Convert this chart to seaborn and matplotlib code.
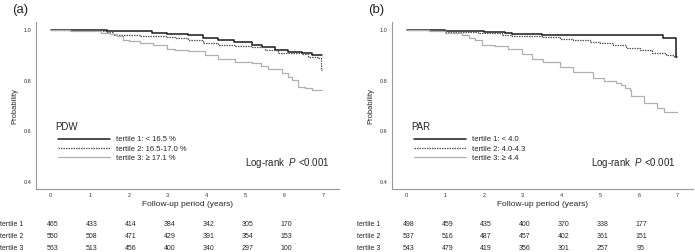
import numpy as np
import pandas as pd
import seaborn as sns
import matplotlib.pyplot as plt
from matplotlib.lines import Line2D

# ---- data ----
years = [0, 1, 2, 3, 4, 5, 6, 7]

# panel (a) PDW
pdw_t1_time = [0, 1.44, 1.8, 2.29, 2.6, 2.98, 3.2, 3.52, 3.9, 4.29, 4.7, 5.17, 5.42, 5.76, 6.1, 6.45, 6.71, 6.97]
pdw_t1_surv = [1.0, 0.998, 0.997, 0.995, 0.99, 0.986, 0.983, 0.979, 0.97, 0.96, 0.952, 0.943, 0.933, 0.92, 0.915, 0.911, 0.903, 0.903]
pdw_t2_time = [0, 0.82, 1.2, 1.44, 1.6, 2.29, 2.98, 3.2, 3.52, 3.9, 4.29, 4.73, 5.17, 5.5, 5.83, 6.45, 6.6, 6.86, 6.95, 6.97]
pdw_t2_surv = [1.0, 0.999, 0.995, 0.992, 0.982, 0.976, 0.973, 0.967, 0.96, 0.95, 0.94, 0.936, 0.933, 0.92, 0.911, 0.905, 0.894, 0.888, 0.842, 0.842]
pdw_t3_time = [0, 0.5, 1.0, 1.3, 1.52, 1.7, 1.85, 2.0, 2.29, 2.62, 2.98, 3.2, 3.52, 3.96, 4.29, 4.73, 5.17, 5.4, 5.58,
               5.94, 6.1, 6.2, 6.35, 6.53, 6.71, 6.97]
pdw_t3_surv = [1.0, 0.998, 0.995, 0.99, 0.986, 0.975, 0.96, 0.955, 0.95, 0.94, 0.927, 0.922, 0.916, 0.90, 0.885, 0.875,
               0.868, 0.86, 0.848, 0.829, 0.815, 0.803, 0.776, 0.773, 0.763, 0.763]
pdw_labels = ['tertile 1: < 16.5 %', 'tertile 2: 16.5-17.0 %', 'tertile 3: \u2265 17.1 %']
pdw_risk_t1 = [465, 433, 414, 384, 342, 305, 170]
pdw_risk_t2 = [550, 508, 471, 429, 391, 354, 153]
pdw_risk_t3 = [563, 513, 456, 400, 340, 297, 100]

# panel (b) PAR
par_t1_time = [0, 1.0, 2.0, 2.55, 2.72, 3.5, 6.58, 6.62, 6.95, 6.99]
par_t1_surv = [1.0, 0.997, 0.993, 0.99, 0.985, 0.982, 0.98, 0.97, 0.895, 0.895]
par_t2_time = [0, 1.0, 1.85, 2.46, 2.72, 3.52, 3.96, 4.3, 4.73, 5.0, 5.32, 5.68, 6.02, 6.35, 6.71, 6.92, 6.99]
par_t2_surv = [1.0, 0.993, 0.988, 0.982, 0.976, 0.973, 0.966, 0.96, 0.953, 0.948, 0.943, 0.929, 0.92, 0.911, 0.90,
               0.894, 0.894]
par_t3_time = [0, 0.57, 1.0, 1.43, 1.6, 1.77, 1.95, 2.29, 2.62, 2.97, 3.23, 3.52, 3.96, 4.29, 4.81, 5.1, 5.42, 5.54,
               5.65, 5.76, 5.8, 6.14, 6.48, 6.66, 6.99]
par_t3_surv = [1.0, 0.995, 0.99, 0.979, 0.97, 0.96, 0.943, 0.937, 0.927, 0.907, 0.887, 0.875, 0.855, 0.835, 0.809,
               0.80, 0.79, 0.784, 0.77, 0.763, 0.739, 0.713, 0.693, 0.677, 0.677]
par_labels = ['tertile 1: < 4.0', 'tertile 2: 4.0-4.3', 'tertile 3: \u2265 4.4']
par_risk_t1 = [498, 459, 435, 400, 370, 338, 177]
par_risk_t2 = [537, 516, 487, 457, 402, 361, 151]
par_risk_t3 = [543, 479, 419, 356, 301, 257, 95]

row_names = ['tertile 1', 'tertile 2', 'tertile 3']

sns.set_style('white')
plt.rcParams['font.family'] = ['Liberation Sans', 'DejaVu Sans']
plt.rcParams['mathtext.fontset'] = 'custom'
plt.rcParams['mathtext.it'] = 'Liberation Sans:italic'
plt.rcParams['mathtext.rm'] = 'Liberation Sans'

fig = plt.figure(figsize=(6.95, 2.52), dpi=100)
ax_a = fig.add_axes([36 / 695, 63 / 252, 303 / 695, 167 / 252])
ax_b = fig.add_axes([392 / 695, 63 / 252, 301 / 695, 167 / 252])

styles = [dict(color='#1a1a1a', linestyle='-', linewidth=1.1),
          dict(color='#555555', linestyle=(0, (1.2, 0.8)), linewidth=0.9),
          dict(color='#b0b0b0', linestyle='-', linewidth=0.9)]

# ax, tag, group name, curves, legend labels, risk rows, row-label x px, log-rank x
panels = [
    (ax_a, '(a)', 'PDW', [(pdw_t1_time, pdw_t1_surv), (pdw_t2_time, pdw_t2_surv), (pdw_t3_time, pdw_t3_surv)],
     pdw_labels, [pdw_risk_t1, pdw_risk_t2, pdw_risk_t3], 0, 0.69),
    (ax_b, '(b)', 'PAR', [(par_t1_time, par_t1_surv), (par_t2_time, par_t2_surv), (par_t3_time, par_t3_surv)],
     par_labels, [par_risk_t1, par_risk_t2, par_risk_t3], 357, 0.66),
]

for ax, tag, name, curves, labels, risks, row_x, lr_x in panels:
    for (t, s), st in zip(curves, styles):
        df = pd.DataFrame({'time': t, 'surv': s})
        sns.lineplot(data=df, x='time', y='surv', ax=ax, estimator=None, sort=False,
                     drawstyle='steps-post', **st)

    ax.set_xlim(-0.38, 7.4)
    ax.set_ylim(0.372, 1.032)
    ax.set_xticks(years)
    ax.set_yticks([0.4, 0.6, 0.8, 1.0])
    ax.set_yticklabels(['0.4', '0.6', '0.8', '1.0'])
    ax.tick_params(axis='both', length=0, labelsize=4, colors='#333333', pad=3)
    ax.set_xlabel('Follow-up period (years)', fontsize=6, labelpad=2)
    ax.set_ylabel('Probability', fontsize=5.5, labelpad=4)
    sns.despine(ax=ax)
    for sp in ['left', 'bottom']:
        ax.spines[sp].set_color('#999999')
        ax.spines[sp].set_linewidth(0.8)

    # group name + legend
    ax.text(0.063, 0.371, name, transform=ax.transAxes, fontsize=7, ha='left', va='center')
    handles = [Line2D([0], [0], **st) for st in styles]
    ax.legend(handles, labels, loc='center left', bbox_to_anchor=(0.072, 0.24),
              frameon=False, fontsize=5.5, handlelength=6.8, handletextpad=0.8,
              labelspacing=0.25, borderaxespad=0, borderpad=0)

    ax.text(lr_x, 0.155, 'Log-rank  $P$ <0.001', transform=ax.transAxes, fontsize=7, ha='left', va='center')

    bbox = ax.get_position()
    fig.text(bbox.x0 - 24 / 695, 1 - 10 / 252, tag, fontsize=9.5, ha='left', va='center')

    # numbers at risk
    for r, (rname, vals) in enumerate(zip(row_names, risks)):
        yf = 1 - (224 + 12 * r) / 252
        fig.text(row_x / 695, yf, rname, fontsize=5, ha='left', va='center')
        for xv, v in zip(years, vals):
            xf = fig.transFigure.inverted().transform(ax.transData.transform((xv, 0)))[0]
            fig.text(xf + 2 / 695, yf, str(v), fontsize=5, ha='center', va='center')

fig.savefig('out.png', dpi=100)
